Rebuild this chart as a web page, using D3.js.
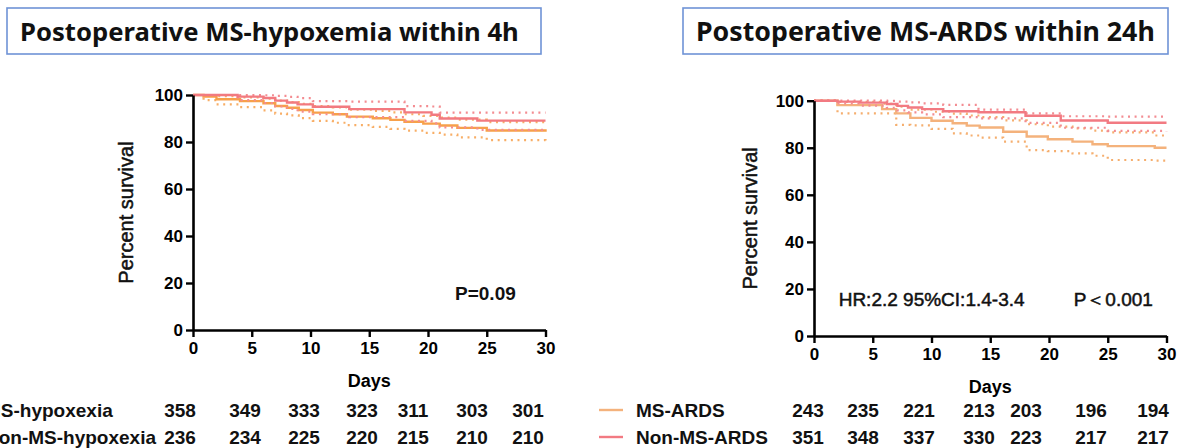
<!DOCTYPE html>
<html><head><meta charset="utf-8">
<script src="https://cdn.jsdelivr.net/npm/d3@7"></script>
<style>html,body{margin:0;padding:0;background:#fff;overflow:hidden}</style>
</head><body>
<svg id="c" width="1192" height="448"></svg>
<script>
// ---------- data ----------
const dayTicks = [0, 5, 10, 15, 20, 25, 30];
const pctTicks = [0, 20, 40, 60, 80, 100];

// Left panel: MS-hypoxemia (orange)
const hypoMS_t  = [0, 0.9, 2, 4, 6, 7, 8, 9, 10.2, 11.9, 13.1, 15.3, 16.8, 18, 19.6, 21, 22.5, 25, 30];
const hypoMS_s  = [100, 99.3, 98.2, 97.4, 96.5, 95.3, 94.6, 93.6, 92.5, 91.8, 90.8, 90.1, 89.4, 88.6, 87.8, 87.0, 86.0, 84.9, 84.4];
const hypoMS_hi = [100, 99.9, 99.5, 99.0, 98.5, 97.6, 97.0, 96.2, 95.3, 94.7, 93.8, 93.2, 92.6, 91.8, 91.1, 90.4, 89.5, 88.5, 88.2];
const hypoMS_lo = [100, 97.8, 96.0, 94.8, 93.5, 92.1, 91.3, 90.2, 89.0, 88.2, 87.2, 86.4, 85.6, 84.8, 83.9, 83.1, 82.0, 80.8, 80.3];
// Left panel: Non-MS-hypoxemia (pink)
const hypoNon_t  = [0, 3.8, 6, 7, 8, 8.9, 10.2, 13.3, 18, 20.3, 21, 24.2, 30];
const hypoNon_s  = [100, 99.3, 98.7, 97.6, 96.8, 96.0, 95.0, 94.0, 92.6, 91.6, 90.0, 89.1, 89.1];
const hypoNon_hi = [100, 100, 99.9, 99.6, 99.2, 98.7, 97.4, 97.2, 95.3, 95.1, 92.5, 92.5, 92.5];
const hypoNon_lo = [100, 97.8, 96.6, 95.1, 94.1, 92.9, 91.8, 90.6, 89.0, 87.9, 86.2, 85.2, 85.2];

// Right panel: MS-ARDS (orange)
const ardsMS_t  = [0, 2, 5.8, 7, 8.2, 10, 11.8, 13, 14.1, 16.1, 18.1, 19.9, 22, 23.7, 25, 29, 30];
const ardsMS_s  = [100, 98.1, 96.4, 94.6, 92.7, 91.5, 90.4, 89.4, 88.6, 86.8, 84.8, 83.6, 82.6, 81.5, 80.7, 80.0, 80.0];
const ardsMS_hi = [100, 99.5, 98.7, 97.5, 96.2, 95.3, 94.5, 93.7, 93.0, 91.6, 90.0, 89.0, 88.2, 87.3, 86.5, 85.2, 85.2];
const ardsMS_lo = [100, 94.6, 94.6, 89.7, 89.5, 88.0, 86.1, 85.2, 84.3, 82.6, 79.0, 78.6, 77.6, 76.6, 74.8, 74.5, 74.5];
// Right panel: Non-MS-ARDS (pink)
const ardsNon_t  = [0, 2, 3.9, 6.2, 7.1, 8, 9.2, 11, 14, 18, 21, 25, 30];
const ardsNon_s  = [100, 99.6, 99.2, 98.6, 97.8, 97.1, 96.4, 95.5, 95.1, 93.6, 91.6, 90.6, 90.6];
const ardsNon_hi = [100, 100, 100, 99.9, 99.6, 99.3, 98.9, 98.2, 96.2, 94.6, 93.4, 93.2, 93.2];
const ardsNon_lo = [100, 98.8, 97.9, 97.0, 95.9, 95.0, 94.2, 93.0, 92.5, 90.6, 88.5, 87.2, 87.0];

// Number at risk
const riskHypoMS  = [358, 349, 333, 323, 311, 303, 301];
const riskHypoNon = [236, 234, 225, 220, 215, 210, 210];
const riskArdsMS  = [243, 235, 221, 213, 203, 196, 194];
const riskArdsNon = [351, 348, 337, 330, 223, 217, 217];

const titles = ["Postoperative MS-hypoxemia within 4h", "Postoperative MS-ARDS within 24h"];
const groupLabels = [["MS-hypoxexia", "Non-MS-hypoxexia"], ["MS-ARDS", "Non-MS-ARDS"]];
const annotations = [["P=0.09"], ["HR:2.2 95%CI:1.4-3.4", "P\uFF1C0.001"]];

// ---------- layout ----------
const F = "'Liberation Sans', Arial, sans-serif";
const svg = d3.select("#c");
const colors = {
  left:  {ms: "#F7A04A", msCI: "#F8AE66", non: "#F27A80", nonCI: "#F48C91"},
  right: {ms: "#F4B27C", msCI: "#F5AE6E", non: "#F27A82", nonCI: "#F38C92"}
};

const panels = [
  {x0: 193, x1: 545.5, yT: 95, yB: 330, col: colors.left,
   box: [7, 8, 534, 46], title: titles[0], titleX: 20, titleW: 499,
   ms: [hypoMS_t, hypoMS_s, hypoMS_lo, hypoMS_hi], non: [hypoNon_t, hypoNon_s, hypoNon_lo, hypoNon_hi],
   ylabX: 133, daysY: 387},
  {x0: 814, x1: 1166.5, yT: 100.7, yB: 336, col: colors.right,
   box: [683, 8, 485, 46], title: titles[1], titleX: 696, titleW: 459,
   ms: [ardsMS_t, ardsMS_s, ardsMS_lo, ardsMS_hi], non: [ardsNon_t, ardsNon_s, ardsNon_lo, ardsNon_hi],
   ylabX: 757, daysY: 393}
];

panels.forEach((p, i) => {
  svg.append("rect").attr("x", p.box[0]).attr("y", p.box[1]).attr("width", p.box[2]).attr("height", p.box[3])
    .attr("fill", "#fff").attr("stroke", "#6F93D6").attr("stroke-width", 1.6);
  const t = svg.append("text").attr("x", p.titleX).attr("y", p.box[1] + 33)
    .attr("font-family", "'Noto Sans', 'Open Sans', sans-serif").attr("font-weight", 700)
    .attr("font-size", 26).attr("fill", "#111").text(p.title);
  const w = t.node().getComputedTextLength();
  t.attr("font-size", 26 * p.titleW / w);

  const x = d3.scaleLinear().domain([0, 30]).range([p.x0, p.x1]);
  const y = d3.scaleLinear().domain([0, 100]).range([p.yB, p.yT]);
  const line = d3.line().x(d => x(d[0])).y(d => y(d[1])).curve(d3.curveStepAfter);

  const g = svg.append("g");
  const drawGroup = (arr, col, colCI) => {
    const [tt, s, lo, hi] = arr;
    [lo, hi].forEach(b => {
      g.append("path").datum(tt.map((d, k) => [d, b[k]])).attr("d", line)
        .attr("fill", "none").attr("stroke", colCI).attr("stroke-width", 2.2)
        .attr("stroke-dasharray", "2,4.6");
    });
    g.append("path").datum(tt.map((d, k) => [d, s[k]])).attr("d", line)
      .attr("fill", "none").attr("stroke", col).attr("stroke-width", 2.4);
  };
  drawGroup(p.ms, p.col.ms, p.col.msCI);
  drawGroup(p.non, p.col.non, p.col.nonCI);

  const ya = svg.append("g").attr("transform", `translate(${p.x0},0)`)
    .call(d3.axisLeft(y).tickValues(pctTicks).tickSize(7).tickSizeOuter(0).tickPadding(3));
  const xa = svg.append("g").attr("transform", `translate(0,${p.yB})`)
    .call(d3.axisBottom(x).tickValues(dayTicks).tickSize(7).tickSizeOuter(0).tickPadding(5));
  [ya, xa].forEach(a => {
    a.select(".domain").attr("stroke", "#000").attr("stroke-width", 2.6);
    a.selectAll(".tick line").attr("stroke", "#000").attr("stroke-width", 2.4);
    a.selectAll(".tick text").attr("font-family", F).attr("font-weight", 700).attr("font-size", 17).attr("fill", "#000");
  });

  svg.append("text").attr("transform", `translate(${p.ylabX},${(p.yT + p.yB) / 2}) rotate(-90)`)
    .attr("text-anchor", "middle").attr("font-family", F).attr("font-size", 20).attr("fill", "#111")
    .attr("stroke", "#111").attr("stroke-width", 0.5).text("Percent survival");
  svg.append("text").attr("x", (p.x0 + p.x1) / 2).attr("y", p.daysY).attr("text-anchor", "middle")
    .attr("font-family", F).attr("font-weight", 700).attr("font-size", 18).attr("fill", "#000").text("Days");
  p.x = x; p.y = y;
});

// annotations
svg.append("text").attr("x", panels[0].x(22.3)).attr("y", 300).attr("font-family", F).attr("font-weight", 700)
  .attr("font-size", 19).attr("fill", "#111").text(annotations[0][0]);
svg.append("text").attr("x", panels[1].x(2.1)).attr("y", 306).attr("font-family", F).attr("font-weight", 400)
  .attr("font-size", 19).attr("stroke", "#111").attr("stroke-width", 0.5).attr("fill", "#111").text(annotations[1][0]);
svg.append("text").attr("x", panels[1].x(22.1)).attr("y", 306).attr("font-family", F).attr("font-weight", 400)
  .attr("font-size", 19).attr("stroke", "#111").attr("stroke-width", 0.5).attr("fill", "#111").text(annotations[1][1]);

// number at risk tables
const colsLeft  = [180, 245, 304, 362, 413, 472, 528];
const colsRight = [808, 863, 919, 979, 1026, 1091, 1153];
const rowY = [417, 444];
const tbl = (rows, cols) => rows.forEach((r, ri) => {
  svg.append("g").selectAll("text").data(r).join("text")
    .attr("x", (d, k) => cols[k]).attr("y", rowY[ri]).attr("text-anchor", "middle")
    .attr("font-family", F).attr("font-weight", 700).attr("font-size", 19).attr("fill", "#111").text(d => d);
});
tbl([riskHypoMS, riskHypoNon], colsLeft);
tbl([riskArdsMS, riskArdsNon], colsRight);

groupLabels[0].forEach((l, ri) => {
  svg.append("text").attr("x", -15).attr("y", rowY[ri]).attr("font-family", F).attr("font-weight", 700)
    .attr("font-size", 19).attr("fill", "#111").text(l);
});
const legCols = [colors.right.ms, colors.right.non];
groupLabels[1].forEach((l, ri) => {
  svg.append("line").attr("x1", 599).attr("x2", 623).attr("y1", rowY[ri] - 7).attr("y2", rowY[ri] - 7)
    .attr("stroke", legCols[ri]).attr("stroke-width", 2.4);
  svg.append("text").attr("x", 636).attr("y", rowY[ri]).attr("font-family", F).attr("font-weight", 700)
    .attr("font-size", 19).attr("fill", "#111").text(l);
});
</script>
</body></html>
